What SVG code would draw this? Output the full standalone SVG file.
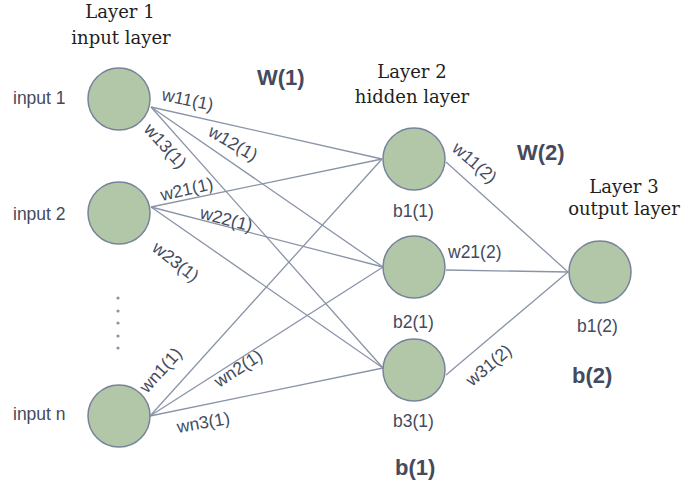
<svg xmlns="http://www.w3.org/2000/svg" width="683" height="491" viewBox="0 0 683 491">
<style>
.node{fill:#b2c7a8;stroke:#76839a;stroke-width:1.5}
.edge{stroke:#8a94a8;stroke-width:1.3;fill:none}
.title{font-family:"DejaVu Serif","Liberation Serif",serif;font-size:18px;fill:#1e1e1e;text-anchor:middle}
.lbl{font-family:"Liberation Sans",Arial,sans-serif;font-size:17.5px;fill:#454a5c}
.big{font-family:"Liberation Sans",Arial,sans-serif;font-size:22px;font-weight:bold;fill:#454a5c}
.dot{fill:#8a94a8}
</style>
<rect width="683" height="491" fill="#ffffff"/>
<g id="connectors">
<line class="edge" x1="151" y1="107" x2="382" y2="159"/>
<line class="edge" x1="151" y1="107" x2="383" y2="267"/>
<line class="edge" x1="151" y1="107" x2="383" y2="368"/>
<line class="edge" x1="151" y1="207" x2="382" y2="159"/>
<line class="edge" x1="151" y1="207" x2="383" y2="267"/>
<line class="edge" x1="151" y1="207" x2="383" y2="368"/>
<line class="edge" x1="150" y1="416" x2="382" y2="159"/>
<line class="edge" x1="150" y1="416" x2="383" y2="267"/>
<line class="edge" x1="150" y1="416" x2="383" y2="368"/>
<line class="edge" x1="446" y1="162" x2="568" y2="272"/>
<line class="edge" x1="446" y1="270" x2="568" y2="272"/>
<line class="edge" x1="446" y1="375" x2="568" y2="272"/>
</g>
<g id="edge-labels">
<text class="lbl" transform="translate(161,100) rotate(12)">w11(1)</text>
<text class="lbl" transform="translate(207,135) rotate(30)">w12(1)</text>
<text class="lbl" transform="translate(143,130) rotate(48)">w13(1)</text>
<text class="lbl" transform="translate(162,201) rotate(-13)">w21(1)</text>
<text class="lbl" transform="translate(199,218) rotate(15)">w22(1)</text>
<text class="lbl" transform="translate(151,250) rotate(38)">w23(1)</text>
<text class="lbl" transform="translate(147,394) rotate(-48)">wn1(1)</text>
<text class="lbl" transform="translate(219,388) rotate(-33)">wn2(1)</text>
<text class="lbl" transform="translate(178,433) rotate(-10)">wn3(1)</text>
<text class="lbl" transform="translate(451,150) rotate(41)">w11(2)</text>
<text class="lbl" x="448" y="258">w21(2)</text>
<text class="lbl" transform="translate(472,387) rotate(-40)">w31(2)</text>
</g>
<g id="input1"><circle class="node" cx="119" cy="99" r="31"/><text class="lbl" x="13" y="104">input 1</text></g>
<g id="input2"><circle class="node" cx="119" cy="213" r="31"/><text class="lbl" x="13" y="220">input 2</text></g>
<g id="inputn"><circle class="node" cx="119" cy="416" r="31"/><text class="lbl" x="13" y="420">input n</text></g>
<g id="dots">
<circle class="dot" cx="118" cy="298" r="1.6"/>
<circle class="dot" cx="118" cy="311" r="1.6"/>
<circle class="dot" cx="118" cy="323" r="1.6"/>
<circle class="dot" cx="118" cy="336" r="1.6"/>
<circle class="dot" cx="118" cy="348" r="1.6"/>
</g>
<g id="hidden1"><circle class="node" cx="414" cy="159" r="31"/><text class="lbl" x="393" y="217">b1(1)</text></g>
<g id="hidden2"><circle class="node" cx="414" cy="267" r="31"/><text class="lbl" x="393" y="328">b2(1)</text></g>
<g id="hidden3"><circle class="node" cx="414" cy="370" r="31"/><text class="lbl" x="393" y="427">b3(1)</text></g>
<g id="output1"><circle class="node" cx="600" cy="272" r="31"/><text class="lbl" x="577" y="332">b1(2)</text></g>
<g id="titles">
<text class="title" x="120" y="18">Layer 1</text>
<text class="title" x="121" y="44">input layer</text>
<text class="title" x="412" y="78">Layer 2</text>
<text class="title" x="412" y="103">hidden layer</text>
<text class="title" x="624" y="193">Layer 3</text>
<text class="title" x="624" y="215">output layer</text>
</g>
<g id="group-labels">
<text class="big" x="257" y="85">W(1)</text>
<text class="big" x="517" y="160">W(2)</text>
<text class="big" x="395" y="475">b(1)</text>
<text class="big" x="572" y="383">b(2)</text>
</g>
</svg>
